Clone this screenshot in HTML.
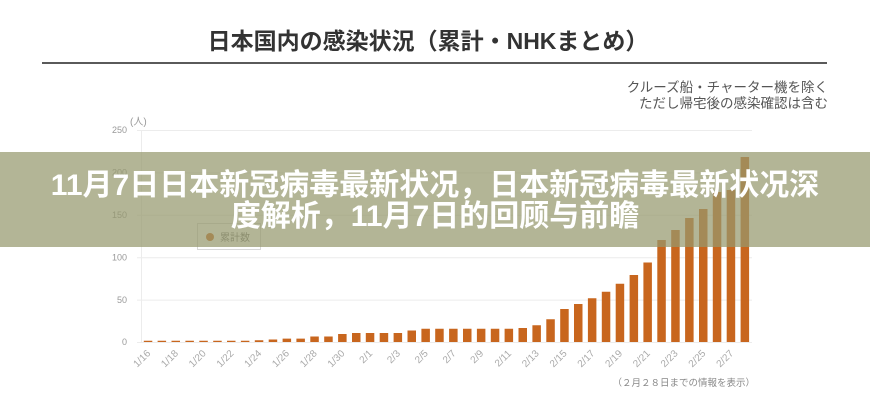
<!DOCTYPE html>
<html><head><meta charset="utf-8">
<style>
html,body{margin:0;padding:0;background:#fff;}
body{width:870px;height:400px;position:relative;overflow:hidden;font-family:"Liberation Sans","Noto Sans CJK JP",sans-serif;}
svg{position:absolute;left:0;top:0;}
.band{position:absolute;left:0;top:152px;width:870px;height:95px;background:rgba(150,152,110,0.72);}
.bt{position:absolute;left:0;width:870px;text-align:center;color:#fff;font-weight:bold;font-size:30px;line-height:32px;white-space:nowrap;font-family:"Liberation Sans","Noto Sans CJK SC",sans-serif;}
</style></head><body>
<svg width="870" height="400" viewBox="0 0 870 400" xmlns="http://www.w3.org/2000/svg">
<text x="428" y="49" text-anchor="middle" font-size="23" font-weight="bold" fill="#333" font-family="Liberation Sans, Noto Sans CJK JP, sans-serif">日本国内の感染状況（累計・NHKまとめ）</text>
<rect x="42" y="62" width="785" height="2" fill="#5a5a5a"/>
<g font-family="Liberation Sans, Noto Sans CJK JP, sans-serif" font-size="13.5" fill="#555" text-anchor="end">
<text x="828" y="92">クルーズ船・チャーター機を除く</text>
<text x="828" y="108">ただし帰宅後の感染確認は含む</text>
</g>
<path d="M137 130.5H752M137 172.9H752M137 215.3H752M137 257.7H752M137 300.1H752M137 342.5H752M141.5 130V342" stroke="#ececec" stroke-width="1" fill="none"/>
<g font-family="Liberation Sans, sans-serif" font-size="9" fill="#999" text-anchor="end">
<text x="127" y="133">250</text>
<text x="127" y="175.5">200</text>
<text x="127" y="218">150</text>
<text x="127" y="260.5">100</text>
<text x="127" y="303">50</text>
<text x="127" y="345">0</text>
</g>
<text x="130" y="125" font-size="10" fill="#999" font-family="Liberation Sans, Noto Sans CJK JP, sans-serif">(人)</text>
<rect x="197.5" y="223.5" width="63" height="26" fill="#fff" stroke="#d8d8d8"/>
<circle cx="210" cy="237" r="4" fill="#c8661e"/>
<text x="220" y="241" font-size="10" fill="#777" font-family="Liberation Sans, Noto Sans CJK JP, sans-serif">累計数</text>
<path fill="#c8661e" d="M143.8 342v-1.2h8.5V342zM157.6 342v-1.2h8.5V342zM171.5 342v-1.2h8.5V342zM185.4 342v-1.2h8.5V342zM199.3 342v-1.2h8.5V342zM213.2 342v-1.2h8.5V342zM227 342v-1.2h8.5V342zM240.9 342v-1.2h8.5V342zM254.8 342v-1.7h8.5V342zM268.7 342v-2.5h8.5V342zM282.6 342v-3.4h8.5V342zM296.4 342v-3.4h8.5V342zM310.3 342v-5.5h8.5V342zM324.2 342v-5.5h8.5V342zM338.1 342v-8h8.5V342zM352 342v-9h8.5V342zM365.8 342v-9h8.5V342zM379.7 342v-9h8.5V342zM393.6 342v-9h8.5V342zM407.5 342v-11.5h8.5V342zM421.4 342v-13.3h8.5V342zM435.2 342v-13.3h8.5V342zM449.1 342v-13.3h8.5V342zM463 342v-13.3h8.5V342zM476.9 342v-13.3h8.5V342zM490.8 342v-13.3h8.5V342zM504.6 342v-13.3h8.5V342zM518.5 342v-14h8.5V342zM532.4 342v-16.7h8.5V342zM546.3 342v-22.7h8.5V342zM560.2 342v-33h8.5V342zM574 342v-38h8.5V342zM587.9 342v-43.7h8.5V342zM601.8 342v-50.3h8.5V342zM615.7 342v-58.3h8.5V342zM629.6 342v-67h8.5V342zM643.4 342v-79.5h8.5V342zM657.3 342v-102h8.5V342zM671.2 342v-112h8.5V342zM685.1 342v-124h8.5V342zM699 342v-133h8.5V342zM712.8 342v-150h8.5V342zM726.7 342v-152h8.5V342zM740.6 342v-185h8.5V342z"/>
<g font-family="Liberation Sans, sans-serif" font-size="10" fill="#aaa" text-anchor="end">
<text transform="translate(151,354) rotate(-45)">1/16</text>
<text transform="translate(178.8,354) rotate(-45)">1/18</text>
<text transform="translate(206.5,354) rotate(-45)">1/20</text>
<text transform="translate(234.3,354) rotate(-45)">1/22</text>
<text transform="translate(262,354) rotate(-45)">1/24</text>
<text transform="translate(289.8,354) rotate(-45)">1/26</text>
<text transform="translate(317.6,354) rotate(-45)">1/28</text>
<text transform="translate(345.3,354) rotate(-45)">1/30</text>
<text transform="translate(373.1,354) rotate(-45)">2/1</text>
<text transform="translate(400.8,354) rotate(-45)">2/3</text>
<text transform="translate(428.6,354) rotate(-45)">2/5</text>
<text transform="translate(456.4,354) rotate(-45)">2/7</text>
<text transform="translate(484.1,354) rotate(-45)">2/9</text>
<text transform="translate(511.9,354) rotate(-45)">2/11</text>
<text transform="translate(539.6,354) rotate(-45)">2/13</text>
<text transform="translate(567.4,354) rotate(-45)">2/15</text>
<text transform="translate(595.2,354) rotate(-45)">2/17</text>
<text transform="translate(622.9,354) rotate(-45)">2/19</text>
<text transform="translate(650.7,354) rotate(-45)">2/21</text>
<text transform="translate(678.4,354) rotate(-45)">2/23</text>
<text transform="translate(706.2,354) rotate(-45)">2/25</text>
<text transform="translate(734,354) rotate(-45)">2/27</text>
</g>
<text x="755" y="386" text-anchor="end" font-size="9.5" fill="#888" font-family="Liberation Sans, Noto Sans CJK JP, sans-serif">（２月２８日までの情報を表示）</text>
</svg>
<div class="band"></div>
<div class="bt" style="top:170px;">11月7日日本新冠病毒最新状况，日本新冠病毒最新状况深</div>
<div class="bt" style="top:201px;">度解析，11月7日的回顾与前瞻</div>
</body></html>
